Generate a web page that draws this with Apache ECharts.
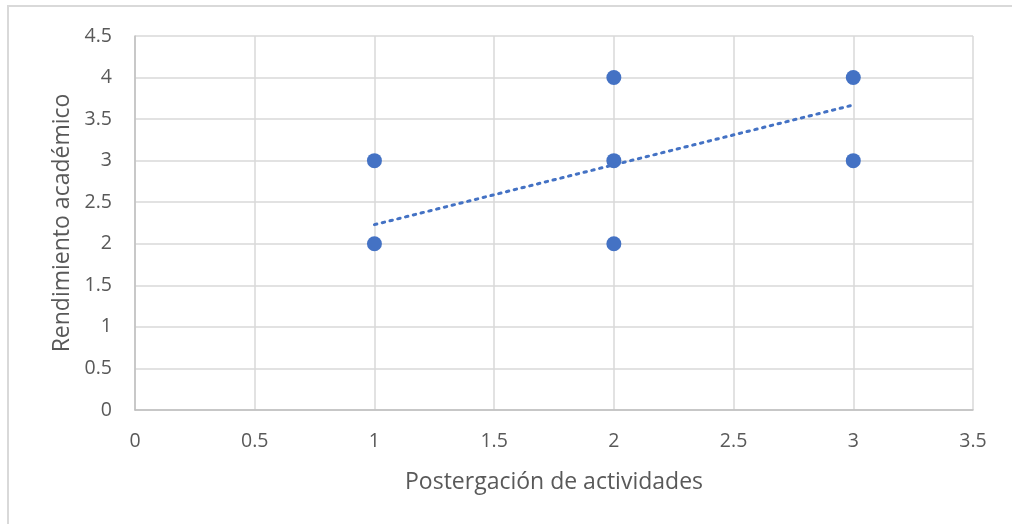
<!DOCTYPE html>
<html><head><meta charset="utf-8">
<script src="https://cdn.jsdelivr.net/npm/echarts@6/dist/echarts.min.js"></script>
<style>html,body{margin:0;padding:0;background:#fff}#c{width:1012px;height:524px}</style>
</head><body><div id="c"></div>
<script>
const xValues = [1, 1, 2, 2, 2, 3, 3];
const yValues = [3, 2, 4, 3, 2, 4, 3];
const trendX = [1, 3];
const trendY = [2.23, 3.67];
const xTicks = [0, 0.5, 1, 1.5, 2, 2.5, 3, 3.5];
const yTicks = [0, 0.5, 1, 1.5, 2, 2.5, 3, 3.5, 4, 4.5];

const font = "'Open Sans', 'Noto Sans', sans-serif";
const chart = echarts.init(document.getElementById('c'));
chart.setOption({
  animation: false,
  graphic: [{type:'rect', shape:{x:8,y:6,width:1100,height:600}, style:{fill:'none', stroke:'#d9d9d9', lineWidth:2}, silent:true}],
  grid: {left:135, top:36, width:838, height:374},
  xAxis: {
    type:'value', min:xTicks[0], max:xTicks[xTicks.length-1], interval:0.5,
    name:'Postergación de actividades', nameLocation:'middle', nameGap:61,
    nameTextStyle:{fontFamily:font, fontSize:23, color:'#595959'},
    axisLine:{show:true, onZero:false, lineStyle:{color:'#bfbfbf', width:1.5}},
    axisTick:{show:false},
    axisLabel:{fontFamily:font, fontSize:19.5, color:'#595959', margin:21},
    splitLine:{show:true, lineStyle:{color:'#d9d9d9', width:1.5}}
  },
  yAxis: {
    type:'value', min:yTicks[0], max:yTicks[yTicks.length-1], interval:0.5,
    name:'Rendimiento académico', nameLocation:'middle', nameGap:60,
    nameTextStyle:{fontFamily:font, fontSize:23, color:'#595959'},
    axisLine:{show:true, onZero:false, lineStyle:{color:'#bfbfbf', width:1.5}},
    axisTick:{show:false},
    axisLabel:{fontFamily:font, fontSize:19.5, color:'#595959', margin:23},
    splitLine:{show:true, lineStyle:{color:'#d9d9d9', width:1.5}}
  },
  series: [
    {type:'line', data: trendX.map((x,i)=>[x,trendY[i]]), symbol:'none',
     lineStyle:{color:'#4472C4', width:3, type:[2.5,5.5], cap:'round'}, z:3},
    {type:'scatter', data: xValues.map((x,i)=>[x,yValues[i]]), symbolSize:15,
     itemStyle:{color:'#4472C4', opacity:1}, z:2}
  ]
});
</script></body></html>
